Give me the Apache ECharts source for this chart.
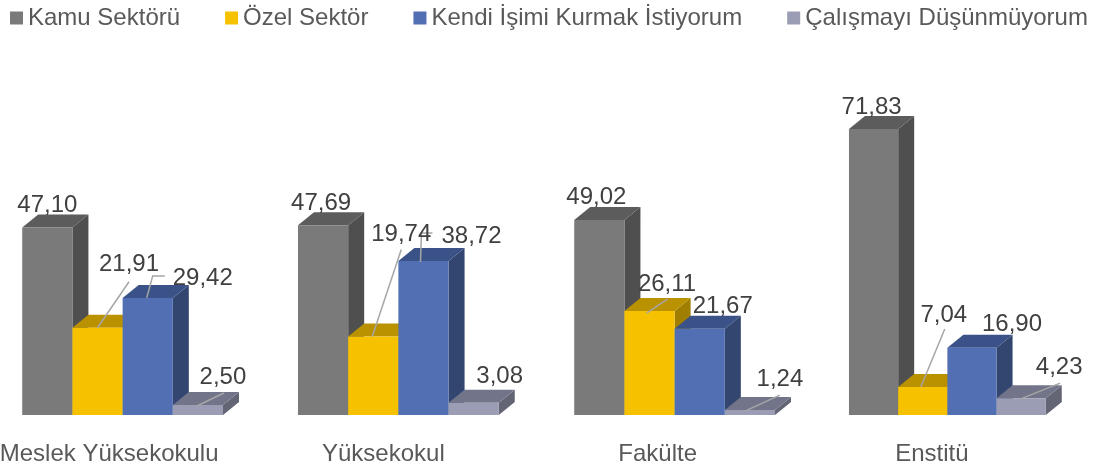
<!DOCTYPE html>
<html><head><meta charset="utf-8">
<style>html,body{margin:0;padding:0;background:#fff}#c{width:1093px;height:472px}</style>
<script src="https://cdn.jsdelivr.net/npm/echarts@6/dist/echarts.min.js"></script>
</head><body><div id="c"></div>
<script>
const categories = ['Meslek Yüksekokulu', 'Yüksekokul', 'Fakülte', 'Enstitü'];
const kamu = [47.10, 47.69, 49.02, 71.83];
const ozel = [21.91, 19.74, 26.11, 7.04];
const kendi = [29.42, 38.72, 21.67, 16.90];
const calismayi = [2.50, 3.08, 1.24, 4.23];
const seriesNames = ['Kamu Sektörü', 'Özel Sektör', 'Kendi İşimi Kurmak İstiyorum', 'Çalışmayı Düşünmüyorum'];

// drawing style and layout, apart from the values
const faces = [
  { front: '#7a7a7a', top: '#5c5c5c', side: '#4f4f4f' },
  { front: '#f6c200', top: '#ba9200', side: '#a07e00' },
  { front: '#516fb2', top: '#3b5288', side: '#334670' },
  { front: '#9a9db3', top: '#72758a', side: '#636574' }
];
const groupShift = [13.5, 15, 17, 15.5];
const barWidths = [50.2, 50.2, 50.2, 49.2];
const depth = [16, 13];
const labelOffsets = [
  [[0, -22], [-2, -22], [-3, -23], [-2, -22]],
  [[31.5, -63], [28, -102], [17.5, -27], [21, -72]],
  [[55, -20], [48, -25], [23, -22], [40, -23]],
  [[25, -28], [26, -26], [30, -31], [38, -31]]
];
const leaderOffsets = [
  [null, null, null, null],
  [[[0, 0], [31.5, -46]], [[-1, 0], [28, -87]], [[-3, 2], [18, -12]], [[-2, 0], [22, -58]]],
  [[[-1, 0], [5, -22], [17, -22]], [[-3, 1], [-2, -28], [9, -28]], null, null],
  [[[-1, 1], [26, -12]], null, [[-5, 1], [30, -15]], [[-1, 1], [39, -15]]]
];

function fmt(v) { return v.toFixed(2).replace('.', ','); }

function makeRender(si) {
  return function (params, api) {
    const ci = api.value(0), v = api.value(1);
    const top = api.coord([ci, v]);
    const base = api.coord([ci, 0]);
    const w = barWidths[ci];
    const cx = top[0] + groupShift[ci] + (si - 1.5) * w;
    const l = cx - w / 2, r = cx + w / 2, t = top[1], b = base[1];
    const dx = depth[0], dy = depth[1];
    const f = faces[si];
    const children = [
      { type: 'polygon', shape: { points: [[r, t], [r + dx, t - dy], [r + dx, b - dy], [r, b]] }, style: { fill: f.side } },
      { type: 'polygon', shape: { points: [[l, t], [l + dx, t - dy], [r + dx, t - dy], [r, t]] }, style: { fill: f.top } },
      { type: 'rect', shape: { x: l, y: t, width: w, height: b - t }, style: { fill: f.front } }
    ];
    const lead = leaderOffsets[si][ci];
    if (lead) {
      children.push({
        type: 'polyline', z2: 10,
        shape: { points: lead.map(p => [cx + p[0], t + p[1]]) },
        style: { stroke: '#a6a6a6', lineWidth: 1.5, fill: 'none' }
      });
    }
    const o = labelOffsets[si][ci];
    children.push({
      type: 'text', z2: 11,
      style: {
        text: fmt(v), x: cx + o[0], y: t + o[1],
        fill: '#404040', font: '24px "Liberation Sans", Arial, sans-serif',
        align: 'center', verticalAlign: 'middle'
      }
    });
    return { type: 'group', children: children };
  };
}

const allValues = [kamu, ozel, kendi, calismayi];
const chart = echarts.init(document.getElementById('c'), null, { renderer: 'canvas' });
chart.setOption({
  animation: false,
  backgroundColor: '#ffffff',
  legend: {
    left: 5, top: 1, width: 1088, selectedMode: false, itemWidth: 13, itemHeight: 13, itemGap: 45,
    icon: 'rect',
    textStyle: { fontFamily: '"Liberation Sans", Arial, sans-serif', fontSize: 24, color: '#595959' },
    data: seriesNames
  },
  grid: { left: -28, top: 96.6, width: 1097, height: 318.4, outerBoundsMode: 'none' },
  xAxis: {
    type: 'category', data: categories,
    axisLine: { show: false }, axisTick: { show: false },
    axisLabel: {
      interval: 0, margin: 27, color: '#595959', hideOverlap: false,
      fontFamily: '"Liberation Sans", Arial, sans-serif', fontSize: 24
    }
  },
  yAxis: { type: 'value', min: 0, max: 80, show: false, splitLine: { show: false } },
  series: allValues.map((vals, si) => ({
    type: 'custom', name: seriesNames[si], clip: false,
    itemStyle: { color: faces[si].front },
    encode: { x: 0, y: 1 },
    data: vals.map((v, ci) => [ci, v]),
    renderItem: makeRender(si)
  }))
});
</script></body></html>
